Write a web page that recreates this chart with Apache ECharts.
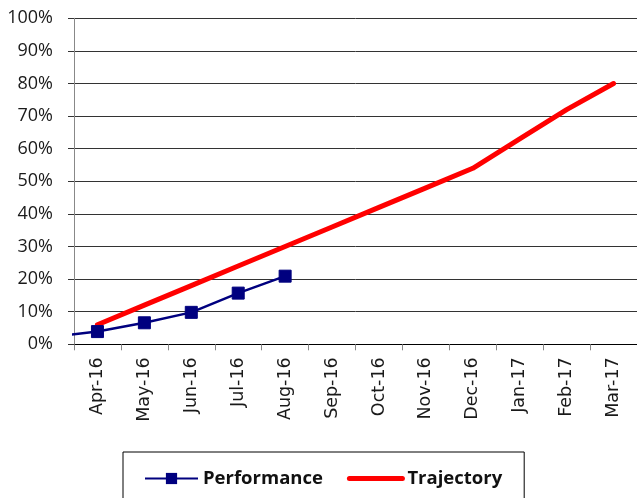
<!DOCTYPE html>
<html>
<head>
<meta charset="utf-8">
<script src="https://cdn.jsdelivr.net/npm/echarts@6/dist/echarts.min.js"></script>
<style>
  html, body { margin: 0; padding: 0; background: #fff; }
  #chart { width: 637px; height: 498px; }
</style>
</head>
<body>
<div id="chart"></div>
<script>
// Months shown on the category axis
const months = ['Apr-16', 'May-16', 'Jun-16', 'Jul-16', 'Aug-16', 'Sep-16',
                'Oct-16', 'Nov-16', 'Dec-16', 'Jan-17', 'Feb-17', 'Mar-17'];
// Actual performance (%) from Apr-16 onwards
const performance = [3.9, 6.6, 9.8, 15.7, 20.9];
// Previous month's performance (Mar-16), just before the plotted range
const performancePrior = 2.3;
// Planned trajectory (%) for each month
const trajectory = [6, 12, 18, 24, 30, 36, 42, 48, 54, 63, 72, 80];
// Y axis tick values (%)
const yTicks = [0, 10, 20, 30, 40, 50, 60, 70, 80, 90, 100];

const FONT = '"Open Sans", sans-serif';
const XFONT = '"DejaVu Sans", sans-serif';

// Points on the hidden numeric x axis: month index -> value
const perfPoints = [{ value: [-1, performancePrior], symbol: 'none' }]
  .concat(performance.map((v, i) => [i, v]));
const trajPoints = trajectory.map((v, i) => [i, v]);

const chart = echarts.init(document.getElementById('chart'), null, { renderer: 'canvas' });
chart.setOption({
  animation: false,
  backgroundColor: '#ffffff',
  grid: { left: 74, top: 18.3, width: 565, bottom: 153.7, containLabel: false },
  xAxis: [
    {
      type: 'category',
      data: months,
      boundaryGap: true,
      axisLine: { show: true, lineStyle: { color: '#000', width: 1 } },
      axisTick: { show: true, length: 6, lineStyle: { color: '#888' } },
      axisLabel: {
        rotate: 90, margin: 13, color: '#1a1a1a',
        fontFamily: XFONT, fontSize: 17.5
      },
      splitLine: { show: false }
    },
    {
      type: 'value',
      min: -0.5, max: 11.5,
      show: false,
      splitLine: { show: false }
    }
  ],
  yAxis: {
    type: 'value',
    min: yTicks[0], max: yTicks[yTicks.length - 1], interval: 10,
    axisLine: { show: true, onZero: false, lineStyle: { color: '#888', width: 1 } },
    axisTick: { show: true, length: 6, lineStyle: { color: '#333' } },
    axisLabel: {
      formatter: '{value}%', margin: 21, color: '#1a1a1a',
      fontFamily: FONT, fontSize: 18
    },
    splitLine: { show: true, lineStyle: { color: '#333', width: 1 } }
  },
  legend: {
    left: 123, top: 452,
    padding: [17, 22, 30, 21],
    itemGap: 24,
    itemWidth: 53, itemHeight: 14,
    borderColor: '#000', borderWidth: 1,
    textStyle: { fontFamily: FONT, fontSize: 18.5, fontWeight: 'bold', color: '#111' },
    data: [
      { name: 'Performance' },
      { name: 'Trajectory', itemStyle: { opacity: 0 }, lineStyle: { width: 5 } }
    ]
  },
  series: [
    {
      name: 'Trajectory',
      type: 'line',
      xAxisIndex: 1,
      data: trajPoints,
      symbol: 'none',
      lineStyle: { color: '#ff0000', width: 5, cap: 'round', join: 'round' },
      itemStyle: { color: '#ff0000' },
      z: 2
    },
    {
      name: 'Performance',
      type: 'line',
      xAxisIndex: 1,
      data: perfPoints,
      symbol: 'rect',
      symbolSize: 12,
      lineStyle: { color: '#00007f', width: 2.5 },
      itemStyle: { color: '#00007f', borderColor: '#00007f' },
      clip: true,
      z: 3
    }
  ]
});
</script>
</body>
</html>
